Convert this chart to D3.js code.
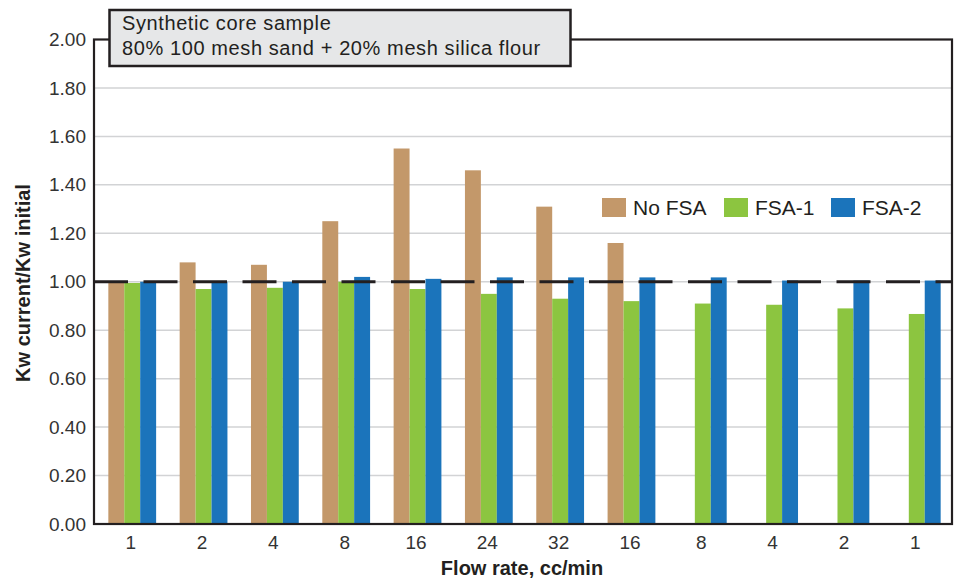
<!DOCTYPE html>
<html>
<head>
<meta charset="utf-8">
<script src="https://cdn.jsdelivr.net/npm/d3@7"></script>
<style>
  html, body { margin: 0; padding: 0; background: #fff; }
  svg { display: block; font-family: "Liberation Sans", Arial, Helvetica, sans-serif; }
</style>
</head>
<body>
<svg id="chart" width="957" height="580"></svg>
<script>
const categories = ["1", "2", "4", "8", "16", "24", "32", "16", "8", "4", "2", "1"];
const seriesNames = ["No FSA", "FSA-1", "FSA-2"];
const noFSA = [1.00, 1.08, 1.07, 1.25, 1.55, 1.46, 1.31, 1.16, null, null, null, null];
const fsa1  = [0.995, 0.97, 0.975, 1.00, 0.97, 0.95, 0.93, 0.92, 0.91, 0.905, 0.89, 0.867];
const fsa2  = [1.00, 1.00, 1.00, 1.02, 1.012, 1.018, 1.018, 1.018, 1.018, 1.005, 1.005, 1.005];
const yTicks = [0, 0.2, 0.4, 0.6, 0.8, 1.0, 1.2, 1.4, 1.6, 1.8, 2.0];
const colors = ["#c3986a", "#8cc540", "#1b74bb"];
const referenceLevel = 1.0;
const noteLines = ["Synthetic core sample", "80% 100 mesh sand + 20% mesh silica flour"];
const xTitle = "Flow rate, cc/min";
const yTitle = "Kw current/Kw initial";

const svg = d3.select("#chart");
const L = 94, R = 952, T = 39.5, B = 524;

const x0 = d3.scaleBand().domain(d3.range(categories.length)).range([L, R])
  .paddingInner(0.33).paddingOuter(0.18);
const x1 = d3.scaleBand().domain(d3.range(seriesNames.length)).range([0, x0.bandwidth()]);
const y = d3.scaleLinear().domain([0, 2]).range([B, T]);

// gridlines
svg.append("g").selectAll("line").data(yTicks.filter(d => d > 0 && d < 2)).join("line")
  .attr("x1", L).attr("x2", R)
  .attr("y1", d => y(d)).attr("y2", d => y(d))
  .attr("stroke", "#d2d3d5").attr("stroke-width", 1.5);

// bars
const allSeries = [noFSA, fsa1, fsa2];
const barData = [];
categories.forEach((c, i) => {
  allSeries.forEach((s, j) => {
    if (s[i] != null) barData.push({ i, j, v: s[i] });
  });
});
svg.append("g").selectAll("rect").data(barData).join("rect")
  .attr("x", d => x0(d.i) + x1(d.j) + 1.5)
  .attr("width", x1.bandwidth())
  .attr("y", d => y(d.v))
  .attr("height", d => y(0) - y(d.v))
  .attr("fill", d => colors[d.j]);

// reference dashed line
svg.append("line")
  .attr("x1", L).attr("x2", R)
  .attr("y1", y(referenceLevel)).attr("y2", y(referenceLevel))
  .attr("stroke", "#231f20").attr("stroke-width", 3)
  .attr("stroke-dasharray", "34,15.5");

// frame
svg.append("rect")
  .attr("x", L).attr("y", T).attr("width", R - L).attr("height", B - T)
  .attr("fill", "none").attr("stroke", "#231f20").attr("stroke-width", 2.2);

// y axis labels
const yAxis = d3.axisLeft(y).tickValues(yTicks).tickFormat(d3.format(".2f")).tickSize(0).tickPadding(8);
const yg = svg.append("g").attr("transform", `translate(${L},0)`).call(yAxis);
yg.select(".domain").remove();
yg.selectAll("text").attr("font-size", 19).attr("fill", "#333").attr("font-family", "Liberation Sans, Arial, sans-serif");

// x axis labels
const xAxis = d3.axisBottom(x0).tickFormat(i => categories[i]).tickSize(0).tickPadding(12);
const xg = svg.append("g").attr("transform", `translate(0,${B})`).call(xAxis);
xg.select(".domain").remove();
xg.selectAll("text").attr("font-size", 19).attr("fill", "#333").attr("font-family", "Liberation Sans, Arial, sans-serif");

// axis titles
svg.append("text").attr("x", 522).attr("y", 575)
  .attr("text-anchor", "middle").attr("font-weight", "bold").attr("font-size", 20)
  .attr("fill", "#231f20").text(xTitle);
svg.append("text").attr("transform", `translate(30,283) rotate(-90)`)
  .attr("text-anchor", "middle").attr("font-weight", "bold").attr("font-size", 20)
  .attr("fill", "#231f20").text(yTitle);

// note box
svg.append("rect").attr("x", 109.5).attr("y", 10).attr("width", 461).attr("height", 56)
  .attr("fill", "#e6e7e8").attr("stroke", "#231f20").attr("stroke-width", 2.5);
svg.append("g").selectAll("text").data(noteLines).join("text")
  .attr("x", 122).attr("y", (d, i) => 30 + i * 25)
  .attr("font-size", 20).attr("letter-spacing", 0.6).attr("fill", "#231f20").text(d => d);

// legend
const legendX = [602, 724, 831];
const lg = svg.append("g").selectAll("g").data(seriesNames).join("g")
  .attr("transform", (d, i) => `translate(${legendX[i]},198)`);
lg.append("rect").attr("width", 24).attr("height", 19).attr("fill", (d, i) => colors[i]);
lg.append("text").attr("x", 31).attr("y", 17).attr("font-size", 21).attr("fill", "#231f20").text(d => d);
</script>
</body>
</html>
